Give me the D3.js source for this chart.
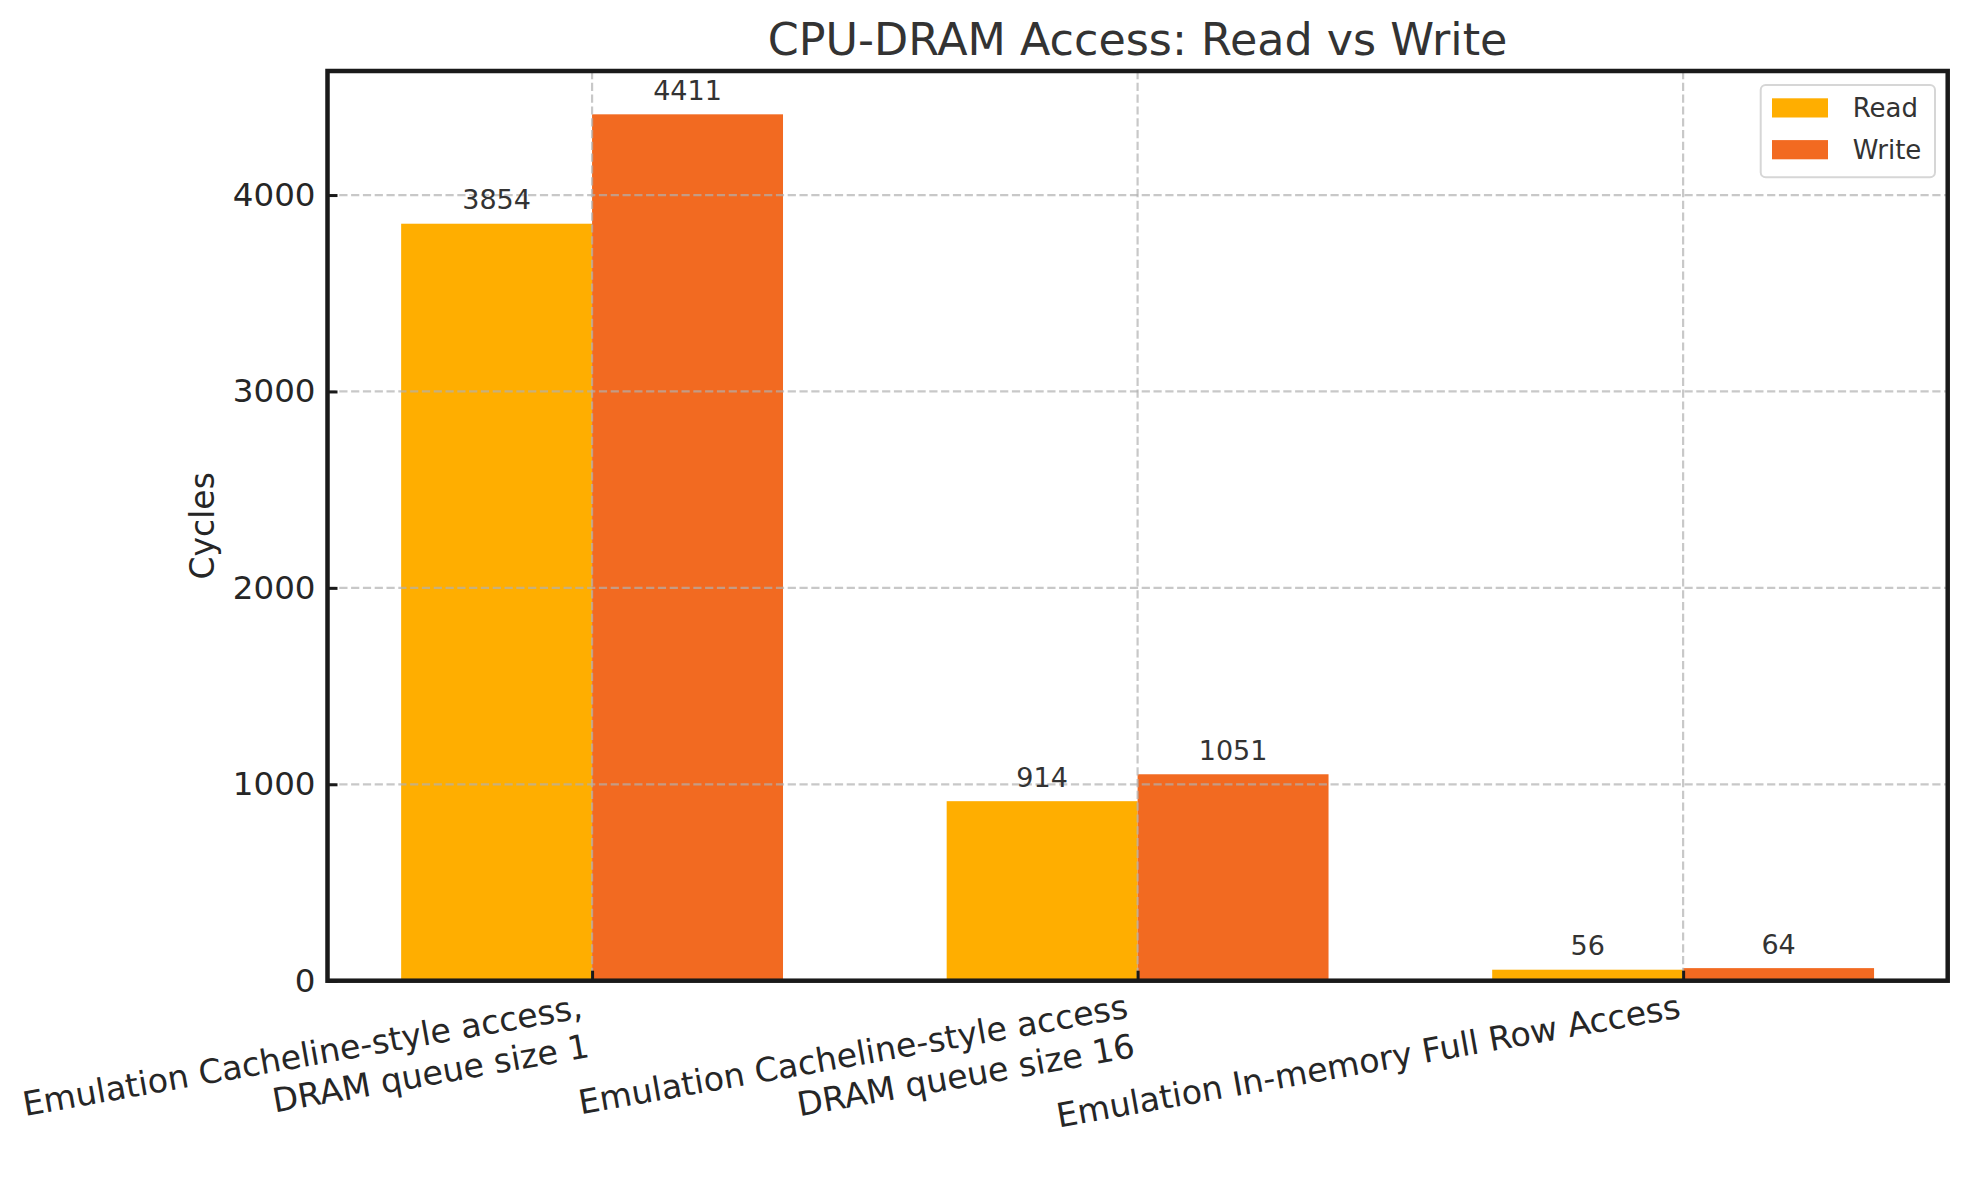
<!DOCTYPE html>
<html>
<head>
<meta charset="utf-8">
<script src="https://cdn.jsdelivr.net/npm/d3@7"></script>
<style>
  body { margin: 0; background: #ffffff; }
  svg { display: block; }
  text { font-family: "DejaVu Sans", "Noto Sans", sans-serif; }
</style>
</head>
<body>
<svg id="chart" width="1968" height="1180"></svg>
<script>
// ---------------- Data ----------------
const categories = [
  "Emulation Cacheline-style access,\nDRAM queue size 1",
  "Emulation Cacheline-style access\nDRAM queue size 16",
  "Emulation In-memory Full Row Access"
];
const seriesNames = ["Read", "Write"];
const readValues = [3854, 914, 56];
const writeValues = [4411, 1051, 64];
const yTickValues = [0, 1000, 2000, 3000, 4000];
const seriesColors = ["#FFAE00", "#F26A21"];
const titleText = "CPU-DRAM Access: Read vs Write";
const yLabelText = "Cycles";

// ---------------- Layout ----------------
const W = 1968, H = 1180;
const plotLeft = 327.5, plotRight = 1947.7, plotTop = 71, plotBottom = 980.7;
const barWidth = 0.35;

const svg = d3.select("#chart");
svg.append("rect").attr("width", W).attr("height", H).attr("fill", "#ffffff");

const series = [readValues, writeValues];
const nCat = categories.length;
const xPad = (nCat - 1 + 2 * barWidth) * 0.05;
const x = d3.scaleLinear()
  .domain([-barWidth - xPad, nCat - 1 + barWidth + xPad])
  .range([plotLeft, plotRight]);
const yMax = d3.max(series.flat()) * 1.05;
const y = d3.scaleLinear().domain([0, yMax]).range([plotBottom, plotTop]);

// ---------------- Bars ----------------
const barData = [];
series.forEach((vals, s) => {
  vals.forEach((v, i) => {
    barData.push({ s, i, v, x0: s === 0 ? i - barWidth : i, x1: s === 0 ? i : i + barWidth });
  });
});

svg.append("g").selectAll("rect").data(barData).join("rect")
  .attr("x", d => x(d.x0))
  .attr("width", d => x(d.x1) - x(d.x0))
  .attr("y", d => y(d.v))
  .attr("height", d => y(0) - y(d.v))
  .attr("fill", d => seriesColors[d.s]);

// ---------------- Grid (above bars) ----------------
const grid = svg.append("g").attr("stroke", "#b0b0b0").attr("stroke-opacity", 0.7)
  .attr("stroke-width", 2.2).attr("stroke-dasharray", "8.2,3.6");
grid.selectAll("line.h").data(yTickValues).join("line").attr("class", "h")
  .attr("x1", plotLeft).attr("x2", plotRight)
  .attr("y1", d => y(d)).attr("y2", d => y(d));
grid.selectAll("line.v").data(d3.range(nCat)).join("line").attr("class", "v")
  .attr("y1", plotTop).attr("y2", plotBottom)
  .attr("x1", d => x(d)).attr("x2", d => x(d));

// ---------------- Value labels ----------------
svg.append("g").selectAll("text").data(barData).join("text")
  .attr("x", d => x((d.x0 + d.x1) / 2))
  .attr("y", d => y(d.v) - 14.5)
  .attr("text-anchor", "middle")
  .attr("font-size", 27)
  .attr("fill", "#333333")
  .text(d => d.v);

// ---------------- Axes ----------------
const yAxis = d3.axisLeft(y).tickValues(yTickValues).tickFormat(d3.format("d"))
  .tickSizeInner(-10).tickSizeOuter(0).tickPadding(12);
const gy = svg.append("g").attr("transform", `translate(${plotLeft},0)`).call(yAxis);
gy.select(".domain").remove();
gy.selectAll(".tick line").attr("stroke", "#1a1a1a").attr("stroke-width", 3);
gy.selectAll(".tick text").attr("font-size", 32.5).attr("fill", "#262626")
  .attr("font-family", "DejaVu Sans");

const xAxis = d3.axisBottom(x).tickValues(d3.range(nCat)).tickSizeInner(-10).tickSizeOuter(0).tickFormat("");
const gx = svg.append("g").attr("transform", `translate(0,${plotBottom})`).call(xAxis);
gx.select(".domain").remove();
gx.selectAll(".tick line").attr("stroke", "#1a1a1a").attr("stroke-width", 3);

// Rotated, multi-line category labels (top-right corner anchored at the tick)
const angle = -10;
const rad = angle * Math.PI / 180;
const labelTop = 987;
const fsX = 33.3;
categories.forEach((cat, i) => {
  const lines = cat.split("\n");
  const g = svg.append("g");
  const t = g.append("text").attr("text-anchor", "end").attr("font-size", fsX).attr("fill", "#262626");
  lines.forEach((ln, k) => {
    t.append("tspan").attr("x", 0).attr("y", k * fsX * 1.2).text(ln);
  });
  const bb = t.node().getBBox();
  const corners = [[bb.x, bb.y], [bb.x + bb.width, bb.y], [bb.x, bb.y + bb.height], [bb.x + bb.width, bb.y + bb.height]];
  let maxX = -Infinity, minY = Infinity;
  corners.forEach(([cx, cy]) => {
    const rx = cx * Math.cos(rad) - cy * Math.sin(rad);
    const ry = cx * Math.sin(rad) + cy * Math.cos(rad);
    maxX = Math.max(maxX, rx); minY = Math.min(minY, ry);
  });
  g.attr("transform", `translate(${x(i) - maxX},${labelTop - minY}) rotate(${angle})`);
});

// ---------------- Spines ----------------
svg.append("rect")
  .attr("x", plotLeft).attr("y", plotTop)
  .attr("width", plotRight - plotLeft).attr("height", plotBottom - plotTop)
  .attr("fill", "none").attr("stroke", "#1a1a1a").attr("stroke-width", 4.5);

// ---------------- Titles ----------------
svg.append("text")
  .attr("x", (plotLeft + plotRight) / 2).attr("y", 55)
  .attr("text-anchor", "middle").attr("font-size", 44.4).attr("fill", "#333333")
  .text(titleText);

svg.append("text")
  .attr("transform", `translate(214,${(plotTop + plotBottom) / 2}) rotate(-90)`)
  .attr("text-anchor", "middle").attr("font-size", 33).attr("fill", "#262626")
  .text(yLabelText);

// ---------------- Legend ----------------
const lg = svg.append("g");
lg.append("rect").attr("x", 1760.7).attr("y", 85).attr("width", 174.3).attr("height", 92.3)
  .attr("rx", 5).attr("fill", "#ffffff").attr("fill-opacity", 0.8)
  .attr("stroke", "#d6d6d6").attr("stroke-width", 2);
const items = lg.selectAll("g.item").data(seriesNames).join("g").attr("class", "item")
  .attr("transform", (d, k) => `translate(0,${k * 41.8})`);
items.append("rect").attr("x", 1772).attr("y", 98.3).attr("width", 56).attr("height", 19.2)
  .attr("fill", (d, k) => seriesColors[k]);
items.append("text").attr("x", 1852.7).attr("y", 116.9)
  .attr("font-size", 26).attr("fill", "#333333").text(d => d);
</script>
</body>
</html>
